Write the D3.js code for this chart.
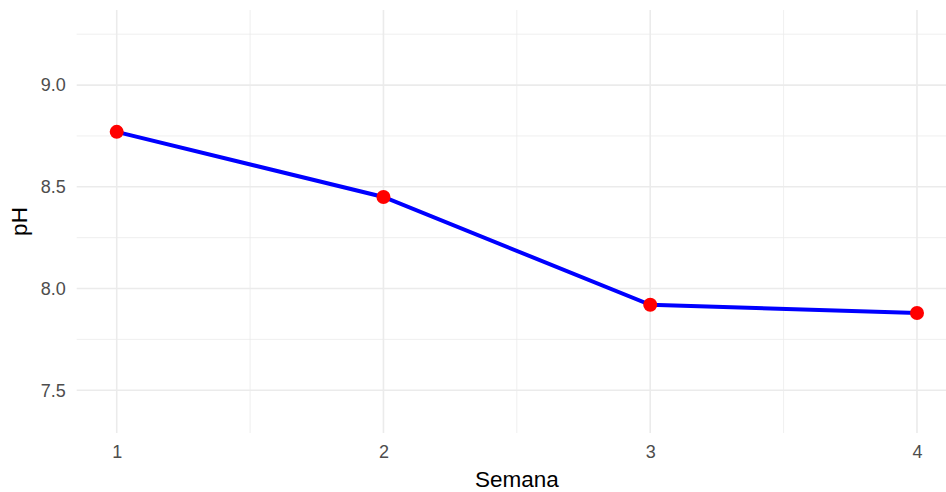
<!DOCTYPE html>
<html><head><meta charset="utf-8">
<script src="https://cdn.jsdelivr.net/npm/d3@7"></script>
<style>html,body{margin:0;padding:0;background:#fff;}svg{display:block;font-family:"Liberation Sans",Arial,sans-serif;}</style>
</head><body>
<svg id="c" width="946" height="492"></svg>
<script>
const semanas = [1, 2, 3, 4];
const ph = [8.77, 8.45, 7.92, 7.88];
const yTicks = [7.5, 8.0, 8.5, 9.0];
const yMinor = [7.75, 8.25, 8.75, 9.25];
const xMinor = [1.5, 2.5, 3.5];

const svg = d3.select("#c");
const panel = {left: 76.7, top: 10, bottom: 433, right: 957};
const x = d3.scaleLinear().domain([0.85, 4.15]).range([panel.left, panel.right]);
const y = d3.scaleLinear().domain([7.29, 9.369]).range([panel.bottom, panel.top]);

const g = svg.append("g");
// minor grid
g.selectAll(".ym").data(yMinor).join("line")
  .attr("x1", panel.left).attr("x2", panel.right)
  .attr("y1", d => y(d)).attr("y2", d => y(d))
  .attr("stroke", "#EBEBEB").attr("stroke-width", 0.8);
g.selectAll(".xm").data(xMinor).join("line")
  .attr("y1", panel.top).attr("y2", panel.bottom)
  .attr("x1", d => x(d)).attr("x2", d => x(d))
  .attr("stroke", "#EBEBEB").attr("stroke-width", 0.8);
// major grid
g.selectAll(".yM").data(yTicks).join("line")
  .attr("x1", panel.left).attr("x2", panel.right)
  .attr("y1", d => y(d)).attr("y2", d => y(d))
  .attr("stroke", "#EBEBEB").attr("stroke-width", 1.6);
g.selectAll(".xM").data(semanas).join("line")
  .attr("y1", panel.top).attr("y2", panel.bottom)
  .attr("x1", d => x(d)).attr("x2", d => x(d))
  .attr("stroke", "#EBEBEB").attr("stroke-width", 1.6);

// axes labels
const yAxis = d3.axisLeft(y).tickValues(yTicks).tickFormat(d3.format(".1f")).tickSize(0).tickPadding(11);
const ya = svg.append("g").attr("transform", `translate(${panel.left},0)`).call(yAxis);
ya.select(".domain").remove();
ya.selectAll("text").attr("fill", "#4D4D4D").attr("font-size", 18).attr("font-family", "Liberation Sans, Arial, sans-serif");

const xAxis = d3.axisBottom(x).tickValues(semanas).tickFormat(d3.format("d")).tickSize(0).tickPadding(12);
const xa = svg.append("g").attr("transform", `translate(0,${panel.bottom})`).call(xAxis);
xa.select(".domain").remove();
xa.selectAll("text").attr("fill", "#4D4D4D").attr("font-size", 18).attr("font-family", "Liberation Sans, Arial, sans-serif");

// line
const data = semanas.map((s, i) => ({s, v: ph[i]}));
svg.append("path").datum(data)
  .attr("d", d3.line().x(d => x(d.s)).y(d => y(d.v)))
  .attr("fill", "none").attr("stroke", "#0000FF").attr("stroke-width", 4);
svg.selectAll(".pt").data(data).join("circle")
  .attr("cx", d => x(d.s)).attr("cy", d => y(d.v)).attr("r", 7)
  .attr("fill", "#FF0000");

// titles
svg.append("text").attr("x", (panel.left + panel.right) / 2).attr("y", 487)
  .attr("text-anchor", "middle").attr("font-size", 22.5).attr("fill", "#000").text("Semana");
svg.append("text").attr("transform", `translate(27,${(panel.top + panel.bottom) / 2}) rotate(-90)`)
  .attr("text-anchor", "middle").attr("font-size", 22.5).attr("fill", "#000").text("pH");
</script>
</body></html>
